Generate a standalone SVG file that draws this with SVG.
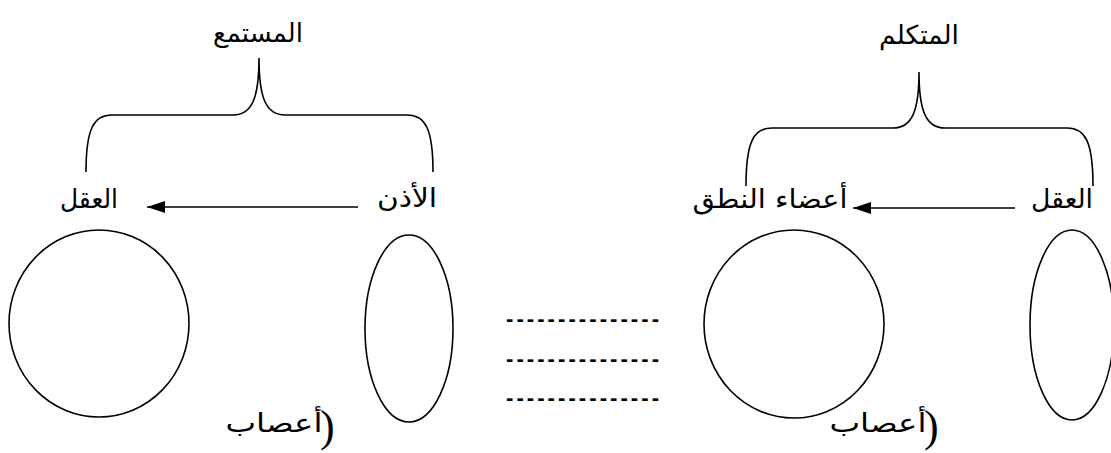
<svg xmlns="http://www.w3.org/2000/svg" width="1111" height="453" viewBox="0 0 1111 453">
<style>
.ln{fill:none;stroke:#000;stroke-width:1.6}
.ar{font-family:"DejaVu Sans",sans-serif;font-size:26px;fill:#000;text-anchor:middle}
.par{font-family:"Liberation Serif",serif;font-size:44px;fill:#000;direction:ltr;unicode-bidi:bidi-override}
.dash{font-family:"Liberation Sans",sans-serif;font-size:22px;font-weight:bold;fill:#000}
</style>
<defs>
<marker id="ah" markerUnits="userSpaceOnUse" markerWidth="20" markerHeight="14" refX="18" refY="7" orient="auto">
<path d="M0,1 L18,7 L0,13 Z" fill="#000"/>
</marker>
</defs>
<rect width="1111" height="453" fill="#fff"/>
<g id="listener">
<text class="ar" x="258" y="42" textLength="90" lengthAdjust="spacingAndGlyphs">المستمع</text>
<path class="ln" d="M86,172 C86,128 94,115 112,115 L233,115 C252,115 259,98 259,58 C259,98 266,115 285,115 L407,115 C425,115 433,128 433,172"/>
<text class="ar" x="89" y="208" textLength="58" lengthAdjust="spacingAndGlyphs">العقل</text>
<text class="ar" x="407" y="207" textLength="60" lengthAdjust="spacingAndGlyphs">الأذن</text>
<ellipse class="ln" cx="99" cy="323.5" rx="90" ry="93.5"/>
<ellipse class="ln" cx="409" cy="328.5" rx="44" ry="93.5"/>
<text class="ar" x="274" y="432" textLength="97" lengthAdjust="spacingAndGlyphs">أعصاب</text>
<text class="par" x="320" y="441">)</text>
</g>
<g id="speaker">
<text class="ar" x="919" y="44" textLength="80" lengthAdjust="spacingAndGlyphs">المتكلم</text>
<path class="ln" d="M746,186 C746,141 754,128 772,128 L893,128 C912,128 919,111 919,72 C919,111 926,128 945,128 L1067,128 C1085,128 1093,141 1093,186"/>
<text class="ar" x="770" y="208" textLength="155" lengthAdjust="spacingAndGlyphs">أعضاء النطق</text>
<text class="ar" x="1062" y="208" textLength="62" lengthAdjust="spacingAndGlyphs">العقل</text>
<ellipse class="ln" cx="794" cy="324" rx="90" ry="94"/>
<ellipse class="ln" cx="1072" cy="325" rx="42" ry="95"/>
<text class="ar" x="878" y="432" textLength="97" lengthAdjust="spacingAndGlyphs">أعصاب</text>
<text class="par" x="924" y="441">)</text>
</g>
<g id="channel">
<text class="dash" x="506" y="326" textLength="153" lengthAdjust="spacing">---------------</text>
<text class="dash" x="506" y="366" textLength="153" lengthAdjust="spacing">---------------</text>
<text class="dash" x="506" y="405" textLength="153" lengthAdjust="spacing">---------------</text>
</g>
<g id="connectors">
<line class="ln" x1="358" y1="207" x2="147" y2="207" marker-end="url(#ah)"/>
<line class="ln" x1="1015" y1="208" x2="853" y2="208" marker-end="url(#ah)"/>
</g>
</svg>
